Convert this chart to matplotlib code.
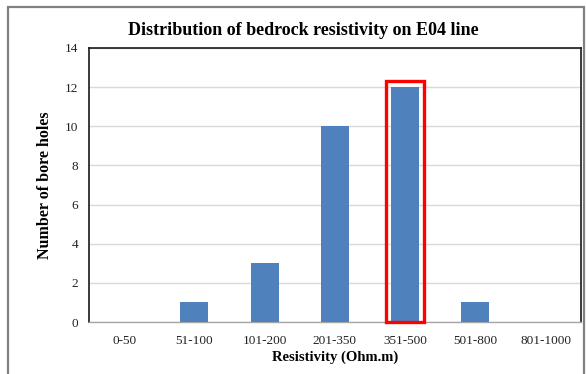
import matplotlib.pyplot as plt
from matplotlib.patches import Rectangle

# resistivity classes and bore hole counts
categories = ['0-50', '51-100', '101-200', '201-350', '351-500', '501-800', '801-1000']
counts = [0, 1, 3, 10, 12, 1, 0]
highlight = '351-500'

plt.rcParams['font.family'] = ['Liberation Serif', 'DejaVu Serif']

fig = plt.figure(figsize=(5.86, 3.74), dpi=100)
ax = fig.add_axes([0.152, 0.139, 0.839, 0.733])

x = list(range(len(categories)))
ax.bar(x, counts, width=0.4, color='#4f81bd', zorder=3)

# red box around the dominant class
i = categories.index(highlight)
ax.add_patch(Rectangle((i - 0.27, 0.0), 0.54, counts[i] + 0.3, fill=False,
                       edgecolor='#ff0000', linewidth=2.4, zorder=4, clip_on=False))

ax.set_xlim(-0.5, len(categories) - 0.5)
ax.set_ylim(0, 14)
ax.set_yticks(range(0, 15, 2))
ax.set_xticks(x)
ax.set_xticklabels(categories)
ax.tick_params(axis='both', length=0, labelsize=9.5, colors='#222222')
ax.tick_params(axis='y', pad=8)
ax.tick_params(axis='x', pad=9)
ax.yaxis.grid(True, color='#d9d9d9', linewidth=1, zorder=0)

for side in ['top', 'left', 'right']:
    ax.spines[side].set_color('#1a1a1a')
    ax.spines[side].set_linewidth(1.2)
ax.spines['bottom'].set_color('#a6a6a6')
ax.spines['bottom'].set_linewidth(1)

ax.set_xlabel('Resistivity (Ohm.m)', fontsize=10.5, fontweight='bold', labelpad=3)
ax.set_ylabel('Number of bore holes', fontsize=11.5, fontweight='bold', labelpad=8)
fig.text(0.518, 0.918, 'Distribution of bedrock resistivity on E04 line',
         ha='center', va='center', fontsize=13, fontweight='bold')

# outer frame
fig.patches.append(Rectangle((8 / 586, -0.05), (584 - 8) / 586, 1 - 7 / 374 + 0.05,
                             transform=fig.transFigure, fill=False,
                             edgecolor='#808080', linewidth=1.6))

fig.savefig('out.png', dpi=100)
